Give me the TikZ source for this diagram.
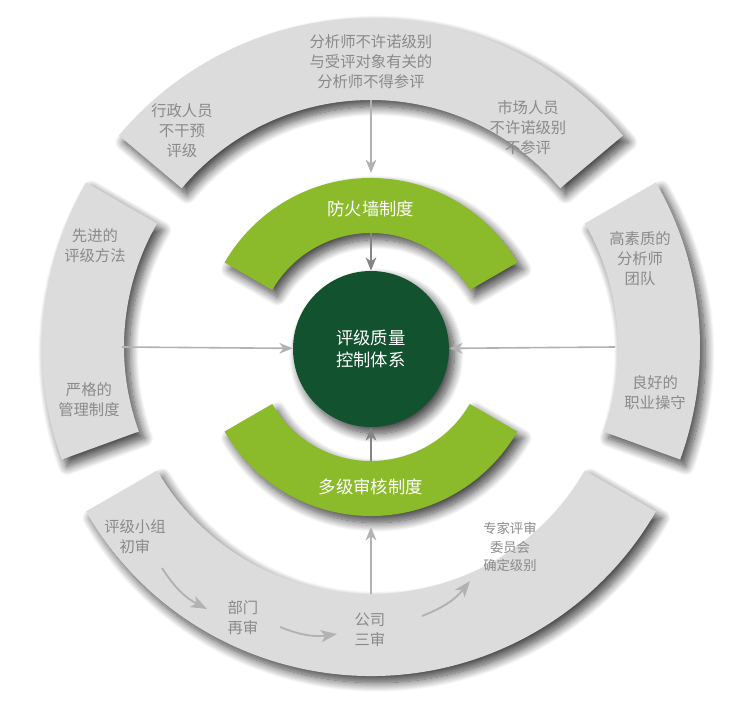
\documentclass[tikz,border=0pt]{standalone}
\usepackage{fontspec}
\setmainfont{Noto Sans CJK SC}
\usetikzlibrary{arrows.meta,shadows.blur}
\definecolor{ringgray}{HTML}{DCDCDC}
\definecolor{textgray}{HTML}{8A8A8A}
\definecolor{leafgreen}{HTML}{8BBA2A}
\definecolor{deepgreen}{HTML}{13522E}
\definecolor{arrowgray}{HTML}{B2B2B2}
\definecolor{darkarrow}{HTML}{858585}
\newcommand{\ringseg}[5]{\fill [#5] (#1:#4) arc [start angle=#1, end angle=#2, radius=#4] -- (#2:#3) arc [start angle=#2, end angle=#1, radius=#3] -- cycle;}
\tikzset{
  segshadow/.style={blur shadow={shadow xshift=4pt, shadow yshift=-5pt, shadow blur radius=7pt, shadow blur steps=14, shadow opacity=75}},
  note/.style={text=textgray, align=center, font=\fontsize{11.5}{15}\selectfont},
  smallnote/.style={text=textgray, align=center, font=\fontsize{10}{14}\selectfont},
  whitetext/.style={text=white, align=center, font=\fontsize{13}{16}\selectfont},
  flow/.style={->, line width=1.2pt, draw=arrowgray},
  inner/.style={->, line width=1.2pt, draw=darkarrow},
  bentflow/.style={->, line width=1.4pt, draw=arrowgray, >={Stealth[length=12pt, width=9pt, inset=3pt]}}
}
\begin{document}
\begin{tikzpicture}[x=0.75pt, y=0.75pt, >={Stealth[length=10pt, width=8pt, inset=3pt]}]
        \useasboundingbox (-371, -374) rectangle (379, 347);
        \pgfmathsetmacro{\rin}{247}
        \pgfmathsetmacro{\rout}{329}
        \ringseg{40}{140}{\rin}{\rout}{ringgray, segshadow}
        \ringseg{150}{200}{\rin}{\rout}{ringgray, segshadow}
        \ringseg{-20}{30}{\rin}{\rout}{ringgray, segshadow}
        \ringseg{210}{330}{\rin}{\rout}{ringgray, segshadow}
        \ringseg{30}{150}{114}{169}{leafgreen, segshadow}
        \ringseg{210}{330}{114}{169}{leafgreen, segshadow}
        \node [circle, fill=deepgreen, minimum size=117pt, segshadow, whitetext] (core) at (0, -2) {评级质量\\控制体系};
        \node [whitetext] (firewall) at (0, 138) {防火墙制度};
        \node [whitetext] (review) at (0, -140) {多级审核制度};
        \node [note] (nopromise) at (0, 285) {分析师不许诺级别\\与受评对象有关的\\分析师不得参评};
        \node [note] (admin) at (-189, 216) {行政人员\\不干预\\评级};
        \node [note] (market) at (157, 219) {市场人员\\不许诺级别\\不参评};
        \node [note] (method) at (-276, 101) {先进的\\评级方法};
        \node [note] (manage) at (-282, -53) {严格的\\管理制度};
        \node [note] (team) at (269, 88) {高素质的\\分析师\\团队};
        \node [note] (ethics) at (284, -46) {良好的\\职业操守};
        \node [note] (first) at (-236, -190) {评级小组\\初审};
        \node [note] (second) at (-128, -271) {部门\\再审};
        \node [note] (third) at (-1, -283) {公司\\三审};
        \node [smallnote] (expert) at (139, -200) {专家评审\\委员会\\确定级别};
        \coordinate (topin) at (90:\rin);
        \coordinate (fwout) at (90:174);
        \coordinate (fwin) at (90:114);
        \coordinate (leftin) at (180:249);
        \coordinate (rightin) at (0:244);
        \coordinate (bottomin) at (270:247);
        \coordinate (rvout) at (270:180);
        \coordinate (rvin) at (270:114);
        \draw [flow] (topin) -- (fwout);
        \draw [inner] (fwin) -- (core);
        \draw [flow] (leftin) -- (core);
        \draw [flow] (rightin) -- (core);
        \draw [flow] (bottomin) -- (rvout);
        \draw [inner] (rvin) -- (core);
        \coordinate (s1) at (-209, -221);
        \coordinate (e1) at (-164, -262);
        \coordinate (s2) at (-91, -280);
        \coordinate (e2) at (-34, -287);
        \coordinate (s3) at (51, -269);
        \coordinate (e3) at (99, -234);
        \draw [bentflow] (s1) to [bend right=15] (e1);
        \draw [bentflow] (s2) to [bend right=15] (e2);
        \draw [bentflow] (s3) to [bend right=15] (e3);
        \end{tikzpicture}
\end{document}
